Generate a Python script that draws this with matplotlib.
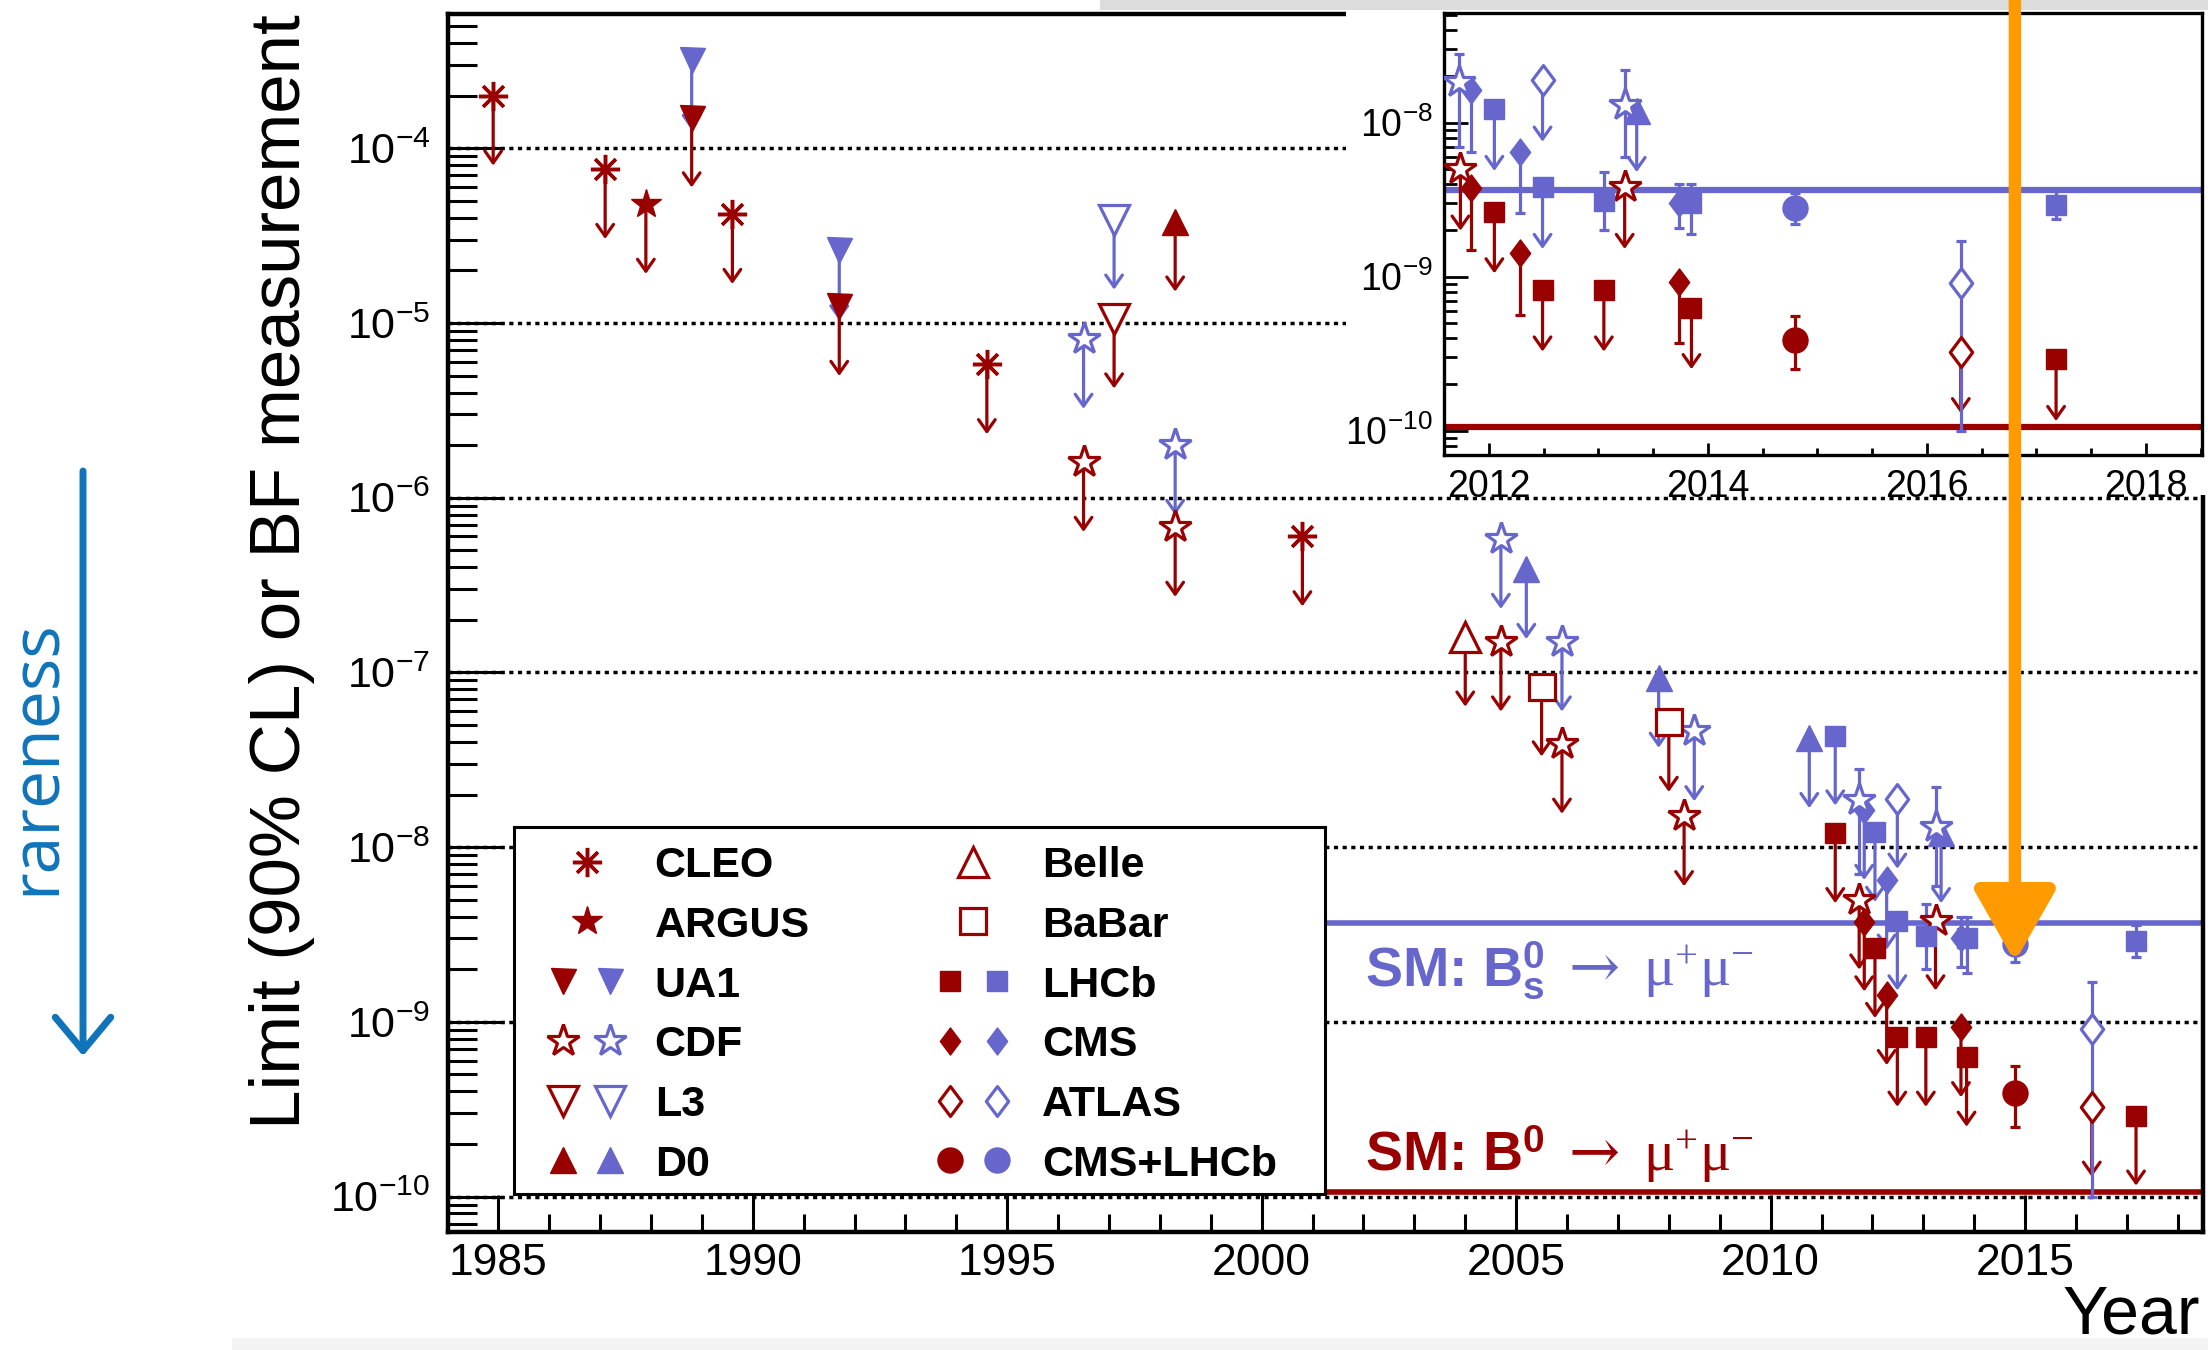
import matplotlib
matplotlib.use("Agg")
import matplotlib.pyplot as plt
from matplotlib.path import Path
from matplotlib.patches import Rectangle, FancyArrowPatch
from matplotlib.ticker import MultipleLocator, LogLocator, NullFormatter, FormatStrFormatter

plt.rcParams['font.family'] = ['Liberation Sans', 'DejaVu Sans']
plt.rcParams['mathtext.fontset'] = 'custom'
plt.rcParams['mathtext.rm'] = 'Liberation Serif'
plt.rcParams['mathtext.it'] = 'Liberation Serif:italic'
plt.rcParams['mathtext.bf'] = 'Liberation Sans:bold'

RED = '#990000'      # B0 -> mu mu
BLUE = '#6666cc'     # Bs -> mu mu
ORANGE = '#ff9a00'
RARE = '#0f74ba'

# ---- upper limits (90% CL) : year, value ----
cleo_b0_year = [1984.9, 1987.1, 1989.6, 1994.6, 2000.8]
cleo_b0_lim = [2.0e-4, 7.6e-5, 4.2e-5, 5.8e-6, 6.0e-7]
argus_b0_year = [1987.9]
argus_b0_lim = [4.8e-5]
ua1_bs_year = [1988.8, 1991.7]
ua1_bs_lim = [3.2e-4, 2.6e-5]
ua1_b0_year = [1988.8, 1991.7]
ua1_b0_lim = [1.5e-4, 1.25e-5]
cdf_bs_year = [1996.5, 1998.3, 2004.7, 2005.9, 2008.5]
cdf_bs_lim = [8.1e-6, 2.0e-6, 5.8e-7, 1.5e-7, 4.6e-8]
cdf_b0_year = [1996.5, 1998.3, 2004.7, 2005.9, 2008.3, 2011.74, 2013.24]
cdf_b0_lim = [1.6e-6, 6.8e-7, 1.5e-7, 3.9e-8, 1.5e-8, 5.0e-9, 3.8e-9]
l3_bs_year = [1997.1]
l3_bs_lim = [3.9e-5]
l3_b0_year = [1997.1]
l3_b0_lim = [1.06e-5]
d0_b0_year = [1998.3]
d0_b0_lim = [3.8e-5]
d0_bs_year = [2005.2, 2007.8, 2010.76, 2013.35]
d0_bs_lim = [3.9e-7, 9.3e-8, 4.2e-8, 1.2e-8]
belle_b0_year = [2004.0]
belle_b0_lim = [1.6e-7]
babar_b0_year = [2005.5, 2008.0]
babar_b0_lim = [8.3e-8, 5.2e-8]
lhcb_bs_year = [2011.27, 2012.05, 2012.49]
lhcb_bs_lim = [4.35e-8, 1.22e-8, 3.8e-9]
lhcb_b0_year = [2011.27, 2012.05, 2012.49, 2013.05, 2013.85, 2017.18]
lhcb_b0_lim = [1.2e-8, 2.64e-9, 8.2e-10, 8.2e-10, 6.3e-10, 2.9e-10]
cms_bs_year = [2011.84, 2012.28]
cms_bs_lim = [1.63e-8, 6.5e-9]
cms_b0_year = [2011.84, 2012.28, 2013.74]
cms_b0_lim = [3.75e-9, 1.42e-9, 9.3e-10]
atlas_bs_year = [2012.49]
atlas_bs_lim = [1.89e-8]
atlas_b0_year = [2016.31]
atlas_b0_lim = [3.26e-10]

# ---- measurements : year, central value, lower, upper ----
cdf_bs_m_year = [2011.73, 2013.24]
cdf_bs_bf = [1.85e-8, 1.3e-8]
cdf_bs_lo = [7.0e-9, 6.0e-9]
cdf_bs_hi = [2.8e-8, 2.2e-8]
lhcb_bs_m_year = [2013.05, 2013.85, 2017.18]
lhcb_bs_bf = [3.1e-9, 3.0e-9, 2.9e-9]
lhcb_bs_lo = [2.0e-9, 1.9e-9, 2.36e-9]
lhcb_bs_hi = [4.75e-9, 4.0e-9, 3.6e-9]
cms_bs_m_year = [2013.74]
cms_bs_bf = [3.0e-9]
cms_bs_lo = [2.06e-9]
cms_bs_hi = [4.0e-9]
atlas_bs_m_year = [2016.31]
atlas_bs_bf = [9.1e-10]
atlas_bs_lo = [1.0e-10]
atlas_bs_hi = [1.7e-9]
comb_bs_year = [2014.80]
comb_bs_bf = [2.8e-9]
comb_bs_lo = [2.2e-9]
comb_bs_hi = [3.5e-9]
comb_b0_year = [2014.80]
comb_b0_bf = [3.9e-10]
comb_b0_lo = [2.5e-10]
comb_b0_hi = [5.55e-10]

# Standard Model predictions
SM_BS = 3.66e-9
SM_B0 = 1.06e-10
SM_LINE_START = 2001.25

legend_left = ["CLEO", "ARGUS", "UA1", "CDF", "L3", "D0"]
legend_right = ["Belle", "BaBar", "LHCb", "CMS", "ATLAS", "CMS+LHCb"]
only_red = ["CLEO", "ARGUS", "Belle", "BaBar"]

DIAMOND = Path([(0, 1), (0.75, 0), (0, -1), (-0.75, 0), (0, 1)],
               [Path.MOVETO, Path.LINETO, Path.LINETO, Path.LINETO, Path.CLOSEPOLY])

# marker, size (pt), hollow
STYLES = {
    "CLEO": ((8, 2, 0), 21, False),
    "ARGUS": ('*', 22, False),
    "UA1": ('v', 18, False),
    "CDF": ('*', 24, True),
    "L3": ('v', 21, True),
    "D0": ('^', 19, False),
    "Belle": ('^', 21, True),
    "BaBar": ('s', 19, True),
    "LHCb": ('s', 14.5, False),
    "CMS": (DIAMOND, 19.5, False),
    "ATLAS": (DIAMOND, 21.5, True),
    "CMS+LHCb": ('o', 18, False),
}

limit_sets = [
    ("UA1", ua1_bs_year, ua1_bs_lim, BLUE),
    ("UA1", ua1_b0_year, ua1_b0_lim, RED),
    ("CLEO", cleo_b0_year, cleo_b0_lim, RED),
    ("ARGUS", argus_b0_year, argus_b0_lim, RED),
    ("CDF", cdf_bs_year, cdf_bs_lim, BLUE),
    ("CDF", cdf_b0_year, cdf_b0_lim, RED),
    ("L3", l3_bs_year, l3_bs_lim, BLUE),
    ("L3", l3_b0_year, l3_b0_lim, RED),
    ("D0", d0_bs_year, d0_bs_lim, BLUE),
    ("D0", d0_b0_year, d0_b0_lim, RED),
    ("Belle", belle_b0_year, belle_b0_lim, RED),
    ("BaBar", babar_b0_year, babar_b0_lim, RED),
    ("LHCb", lhcb_bs_year, lhcb_bs_lim, BLUE),
    ("LHCb", lhcb_b0_year, lhcb_b0_lim, RED),
    ("CMS", cms_bs_year, cms_bs_lim, BLUE),
    ("CMS", cms_b0_year, cms_b0_lim, RED),
    ("ATLAS", atlas_bs_year, atlas_bs_lim, BLUE),
    ("ATLAS", atlas_b0_year, atlas_b0_lim, RED),
]

meas_sets = [
    ("CDF", cdf_bs_m_year, cdf_bs_bf, cdf_bs_lo, cdf_bs_hi, BLUE),
    ("LHCb", lhcb_bs_m_year, lhcb_bs_bf, lhcb_bs_lo, lhcb_bs_hi, BLUE),
    ("CMS", cms_bs_m_year, cms_bs_bf, cms_bs_lo, cms_bs_hi, BLUE),
    ("ATLAS", atlas_bs_m_year, atlas_bs_bf, atlas_bs_lo, atlas_bs_hi, BLUE),
    ("CMS+LHCb", comb_bs_year, comb_bs_bf, comb_bs_lo, comb_bs_hi, BLUE),
    ("CMS+LHCb", comb_b0_year, comb_b0_bf, comb_b0_lo, comb_b0_hi, RED),
]

ARROW_DECADES = 0.4
LW = 2.3
CAPSIZE = 3.5

W, H = 2208, 1350


def box(x0, y0, x1, y1):
    """ pixel box (origin top left) -> figure fraction rect """
    return [x0 / W, 1 - y1 / H, (x1 - x0) / W, (y1 - y0) / H]


def marker_kw(name, color):
    m, ms, hollow = STYLES[name]
    kw = dict(marker=m, ms=ms, ls='none', mec=color)
    if hollow:
        kw.update(mfc='white', mew=2.3)
    else:
        kw.update(mfc=color, mew=2.5 if name == "CLEO" else 1)
    return kw


def draw_data(axis, inset=False):
    for name, years, lims, color in limit_sets:
        for x, v in zip(years, lims):
            tip = v / 10 ** ARROW_DECADES
            if inset and name == "CMS":
                axis.errorbar([x], [v], yerr=[[v - tip], [0]], fmt='none', ecolor=color,
                              elinewidth=LW, capsize=CAPSIZE, capthick=LW, zorder=3)
            else:
                axis.add_patch(FancyArrowPatch((x, v), (x, tip), arrowstyle="->,head_length=8.5,head_width=6",
                                               mutation_scale=1, color=color, lw=LW,
                                               shrinkA=0, shrinkB=0, zorder=3))
        axis.plot(years, lims, zorder=4, **marker_kw(name, color))
    for name, years, bf, lo, hi, color in meas_sets:
        err = [[b - l for b, l in zip(bf, lo)], [h - b for b, h in zip(bf, hi)]]
        axis.errorbar(years, bf, yerr=err, fmt='none', ecolor=color, elinewidth=LW,
                      capsize=CAPSIZE, capthick=LW, zorder=3)
        axis.plot(years, bf, zorder=4, **marker_kw(name, color))


def sm_label(axis, x, y, head, color):
    """ 'SM: B -> mu mu' written as three pieces like the ROOT latex """
    t = axis.text(x, y, head, color=color, fontsize=40, fontweight='bold', va='baseline')
    arrow = axis.annotate("\u2192", xy=(1, y), xycoords=(t, 'data'), xytext=(17, 0),
                          textcoords='offset points', color=color, fontsize=44,
                          family=['DejaVu Serif'], va='baseline')
    axis.annotate(r"$\mathrm{\mu}^{+}\mathrm{\mu}^{-}$", xy=(1, y), xycoords=(arrow, 'data'),
                  xytext=(17, 0), textcoords='offset points', color=color, fontsize=42,
                  va='baseline')


fig = plt.figure(figsize=(W / 100, H / 100), dpi=100)

# ---- main plot ----
ax = fig.add_axes(box(448.4, 14, 2202.7, 1231.7), zorder=0)
ax.set_yscale('log')
ax.set_xlim(1984.02, 2018.49)
ax.set_ylim(6.29e-11, 5.87e-4)
ax.xaxis.set_major_locator(MultipleLocator(5))
ax.xaxis.set_minor_locator(MultipleLocator(1))
ax.xaxis.set_major_formatter(FormatStrFormatter('%d'))
ax.yaxis.set_major_locator(LogLocator(base=10, numticks=20))
ax.yaxis.set_minor_locator(LogLocator(base=10, subs=range(2, 10), numticks=200))
ax.yaxis.set_minor_formatter(NullFormatter())
ax.tick_params(which='both', direction='in', top=False, right=False, width=2.2)
ax.tick_params(axis='y', which='major', length=40, pad=13, labelsize=31)
ax.tick_params(axis='y', which='minor', length=21)
ax.tick_params(axis='x', which='major', length=27, pad=8, labelsize=32)
ax.tick_params(axis='x', which='minor', length=13)
for s in ax.spines.values():
    s.set_linewidth(3.2)
ax.set_axisbelow(True)
ax.grid(axis='y', which='major', ls=(0, (1.2, 1.3)), lw=2.5, color='black')

ax.hlines(SM_BS, SM_LINE_START, 2018.49, color=BLUE, lw=4, zorder=2)
ax.hlines(SM_B0, SM_LINE_START, 2018.49, color=RED, lw=4, zorder=2)
sm_label(ax, 2002.03, 1.60e-9, r"SM: B$^{\mathbf{0}}_{\mathbf{s}}$", BLUE)
sm_label(ax, 2002.03, 1.40e-10, r"SM: B$^{\mathbf{0}}$", RED)
draw_data(ax)

# ---- legend ----
leg = fig.add_axes(box(514, 826.5, 1325, 1194), zorder=2)
leg.set_xlim(0, 811)
leg.set_ylim(367.5, 0)
leg.set_xticks([])
leg.set_yticks([])
for s in leg.spines.values():
    s.set_linewidth(2.2)
for col, names in enumerate([legend_left, legend_right]):
    x_red, x_blue, x_one, x_txt = [(49, 95.7, 73, 140.7), (436.4, 483, 459, 528)][col]
    for i, name in enumerate(names):
        y = 35.2 + 59.7 * i
        if name in only_red:
            leg.plot([x_one], [y], **marker_kw(name, RED))
        else:
            leg.plot([x_red], [y], **marker_kw(name, RED))
            leg.plot([x_blue], [y], **marker_kw(name, BLUE))
        leg.text(x_txt, y, name, va='center_baseline', fontsize=31, fontweight='bold')

# white pad behind the inset, then the inset
fig.add_artist(Rectangle((1346 / W, 1 - 495 / H), 1 - 1346 / W, 495 / H,
                         transform=fig.transFigure, fc='white', ec='none', zorder=2.5))
ins = fig.add_axes(box(1444, 12.7, 2201.7, 455), zorder=3)
ins.set_yscale('log')
ins.set_xlim(2011.59, 2018.51)
ins.set_ylim(6.95e-11, 5.18e-8)
ins.xaxis.set_major_locator(MultipleLocator(2))
ins.xaxis.set_minor_locator(MultipleLocator(0.5))
ins.xaxis.set_major_formatter(FormatStrFormatter('%d'))
ins.yaxis.set_major_locator(LogLocator(base=10, numticks=20))
ins.yaxis.set_minor_locator(LogLocator(base=10, subs=range(2, 10), numticks=200))
ins.yaxis.set_minor_formatter(NullFormatter())
ins.tick_params(which='both', direction='in', top=False, right=False, width=2, labelsize=27)
ins.tick_params(axis='y', which='major', length=17, pad=8)
ins.tick_params(axis='y', which='minor', length=9.5)
ins.tick_params(axis='x', which='major', length=9, pad=10)
ins.tick_params(axis='x', which='minor', length=5)
for s in ins.spines.values():
    s.set_linewidth(2.4)
ins.axhline(SM_BS, color=BLUE, lw=4.5, zorder=2)
ins.axhline(SM_B0, color=RED, lw=4.5, zorder=2)
draw_data(ins, inset=True)

# ---- labels and hand-drawn annotations ----
fig.text(282 / W, 1 - 14 / H, "Limit (90% CL) or BF measurement", rotation=90,
         ha='center', va='top', fontsize=51)
fig.text(2200 / W, 1 - 1333 / H, "Year", ha='right', va='baseline', fontsize=49)

fig.add_artist(FancyArrowPatch((83 / W, 1 - 471 / H), (83 / W, 1 - 1056 / H),
                               transform=fig.transFigure,
                               arrowstyle="->,head_length=24,head_width=20",
                               mutation_scale=1, color=RARE, lw=5, shrinkA=0, shrinkB=0))
fig.text(36.7 / W, 1 - 757 / H, "rareness", rotation=90, ha='center', va='center',
         color=RARE, fontsize=49, family=['Open Sans', 'DejaVu Sans'])

# orange arrow pointing at the combined CMS+LHCb Bs measurement
tip_x, tip_y = fig.transFigure.inverted().transform(
    ax.transData.transform((comb_bs_year[0], comb_bs_lo[0])))
fig.add_artist(FancyArrowPatch((tip_x, 1.0), (tip_x, tip_y), transform=fig.transFigure,
                               arrowstyle="-|>,head_length=44,head_width=25",
                               mutation_scale=1, color=ORANGE, lw=9,
                               shrinkA=0, shrinkB=0, zorder=6))

# screenshot edges
fig.add_artist(Rectangle((1100 / W, 1 - 10 / H), 1 - 1100 / W, 10 / H, transform=fig.transFigure,
                         fc='#dcdcdc', ec='none', zorder=4))
fig.add_artist(Rectangle((232 / W, 0), 1 - 232 / W, 12 / H, transform=fig.transFigure,
                         fc='#f3f3f3', ec='none', zorder=-1))

fig.savefig("out.png", dpi=100)
